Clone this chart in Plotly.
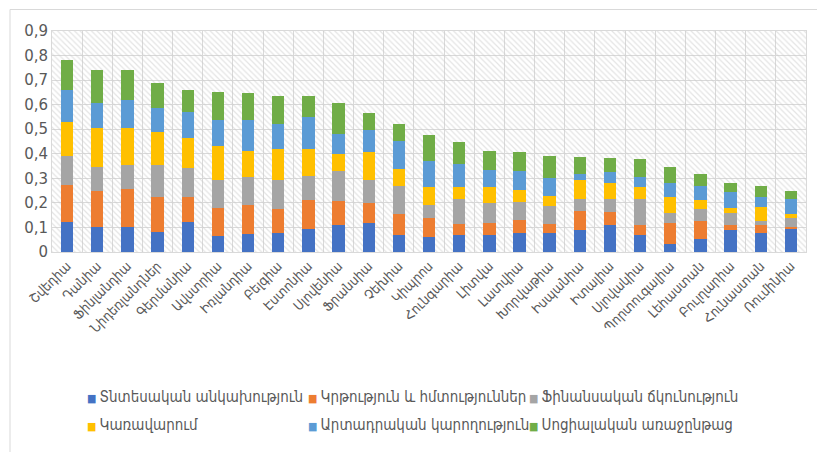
import plotly.graph_objects as go

countries = ["Շվեդիա", "Դանիա", "Ֆինլանդիա", "Նիդեռլանդներ", "Գերմանիա", "Ավստրիա",
             "Իռլանդիա", "Բելգիա", "Էստոնիա", "Սլովենիա", "Ֆրանսիա", "Չեխիա", "Կիպրոս",
             "Հունգարիա", "Լիտվա", "Լատվիա", "Խորվաթիա", "Իսպանիա", "Իտալիա", "Սլովակիա",
             "Պորտուգալիա", "Լեհաստան", "Բուլղարիա", "Հունաստան", "Ռումինիա"]

econ_independence = [0.124, 0.100, 0.100, 0.083, 0.124, 0.067, 0.072, 0.077, 0.093, 0.110,
                     0.117, 0.069, 0.060, 0.071, 0.071, 0.077, 0.077, 0.089, 0.110, 0.071,
                     0.031, 0.051, 0.089, 0.077, 0.093]
education_skills = [0.149, 0.149, 0.155, 0.140, 0.099, 0.113, 0.121, 0.100, 0.120, 0.099,
                    0.082, 0.084, 0.077, 0.045, 0.049, 0.052, 0.036, 0.077, 0.054, 0.038,
                    0.086, 0.075, 0.020, 0.032, 0.010]
financial_resilience = [0.119, 0.097, 0.098, 0.130, 0.119, 0.115, 0.112, 0.116, 0.096, 0.120,
                        0.094, 0.116, 0.056, 0.099, 0.079, 0.073, 0.076, 0.051, 0.051, 0.106,
                        0.040, 0.050, 0.051, 0.017, 0.037]
governance = [0.137, 0.157, 0.150, 0.135, 0.123, 0.135, 0.107, 0.126, 0.110, 0.070,
              0.113, 0.068, 0.073, 0.051, 0.067, 0.051, 0.040, 0.078, 0.068, 0.051,
              0.066, 0.037, 0.020, 0.057, 0.013]
productive_capacity = [0.129, 0.102, 0.115, 0.100, 0.104, 0.106, 0.124, 0.104, 0.129, 0.080,
                       0.090, 0.115, 0.104, 0.093, 0.069, 0.077, 0.074, 0.024, 0.043, 0.040,
                       0.059, 0.056, 0.066, 0.043, 0.064]
social_progress = [0.124, 0.136, 0.123, 0.100, 0.089, 0.116, 0.110, 0.113, 0.088, 0.126,
                   0.069, 0.071, 0.106, 0.089, 0.077, 0.076, 0.089, 0.069, 0.057, 0.071,
                   0.064, 0.048, 0.036, 0.044, 0.032]

series_names = ["Տնտեսական անկախություն", "Կրթություն և հմտություններ", "Ֆինանսական ճկունություն",
                "Կառավարում", "Արտադրական կարողություն", "Սոցիալական առաջընթաց"]
series_values = [econ_independence, education_skills, financial_resilience,
                 governance, productive_capacity, social_progress]
colors = ["#4472C4", "#ED7D31", "#A5A5A5", "#FFC000", "#5B9BD5", "#70AD47"]

y_tickvals = [0, 0.1, 0.2, 0.3, 0.4, 0.5, 0.6, 0.7, 0.8, 0.9]
y_ticktext = ["0", "0,1", "0,2", "0,3", "0,4", "0,5", "0,6", "0,7", "0,8", "0,9"]

FONT = "DejaVu Sans Condensed, DejaVu Sans, sans-serif"
TXT = "#595959"
GRID = "#d9d9d9"

fig = go.Figure()

# hatched plot-area background
fig.add_trace(go.Scatter(
    x=[0, 1, 1, 0, 0], y=[0, 0, 0.9, 0.9, 0], xaxis="x", yaxis="y",
    mode="lines", fill="toself", fillcolor="rgba(0,0,0,0)",
    fillpattern=dict(shape="\\", fgcolor="#c9c9c9", bgcolor="rgba(0,0,0,0)",
                     size=4, solidity=0.3),
    line=dict(width=0), hoverinfo="skip", showlegend=False))

for i, (name, vals, col) in enumerate(zip(series_names, series_values, colors)):
    fig.add_trace(go.Bar(
        x=countries, y=vals, name=name, legendgroup=name, showlegend=False,
        marker=dict(color=col, line=dict(width=0)),
        xaxis="x2", yaxis="y"))

# legend entries: small coloured square right before the text, as in the original
for i, (name, col) in enumerate(zip(series_names, colors)):
    fig.add_trace(go.Scatter(
        x=[None], y=[None], mode="markers", legendgroup=name,
        marker=dict(color="rgba(0,0,0,0)", size=1),
        name=f"<span style='color:{col};font-size:11px'>■ </span>{name}",
        legend="legend" if i < 3 else "legend2",
        legendwidth=240 if i in (2, 5) else None,
        xaxis="x2", yaxis="y", hoverinfo="skip"))

leg_common = dict(orientation="h", x=(47 - 52) / 754, xanchor="left", yanchor="middle",
                  entrywidth=176, entrywidthmode="pixels", traceorder="normal",
                  font=dict(size=15, color=TXT, family=FONT), bgcolor="rgba(0,0,0,0)")

fig.update_layout(
    width=817, height=452,
    margin=dict(l=52, r=11, t=31, b=195),
    paper_bgcolor="white", plot_bgcolor="white",
    barmode="stack", bargap=0.59,
    font=dict(family=FONT, color=TXT, size=13),
    xaxis=dict(range=[0, 1], visible=False, showgrid=False, zeroline=False),
    xaxis2=dict(overlaying="x", anchor="y", side="bottom", type="category",
                tickson="boundaries", showgrid=True, gridcolor=GRID, gridwidth=1,
                ticks="", tickangle=-45, tickfont=dict(size=13.5, color=TXT),
                showline=True, linecolor=GRID, mirror=True),
    yaxis=dict(range=[0, 0.9], tickvals=y_tickvals, ticktext=y_ticktext,
               showgrid=True, gridcolor=GRID, gridwidth=1, zeroline=False,
               showline=True, linecolor=GRID, mirror=True, ticks="",
               tickfont=dict(size=15, color=TXT, family="DejaVu Sans, sans-serif")),
    legend=dict(y=-0.654, **leg_common),
    legend2=dict(y=-0.781, **leg_common),
    shapes=[dict(type="rect", xref="paper", yref="paper",
                 x0=(10 - 52) / 754, x1=1.2, y0=-1.2, y1=(257 - 9) / 226,
                 line=dict(color=GRID, width=1), fillcolor="rgba(0,0,0,0)", layer="below")],
    showlegend=True,
)

fig.write_html(
    "out.html",
    config={"displayModeBar": False},
    post_script="document.body.style.margin='0px';document.body.style.padding='0px';"
                "document.body.style.overflow='hidden';",
)
